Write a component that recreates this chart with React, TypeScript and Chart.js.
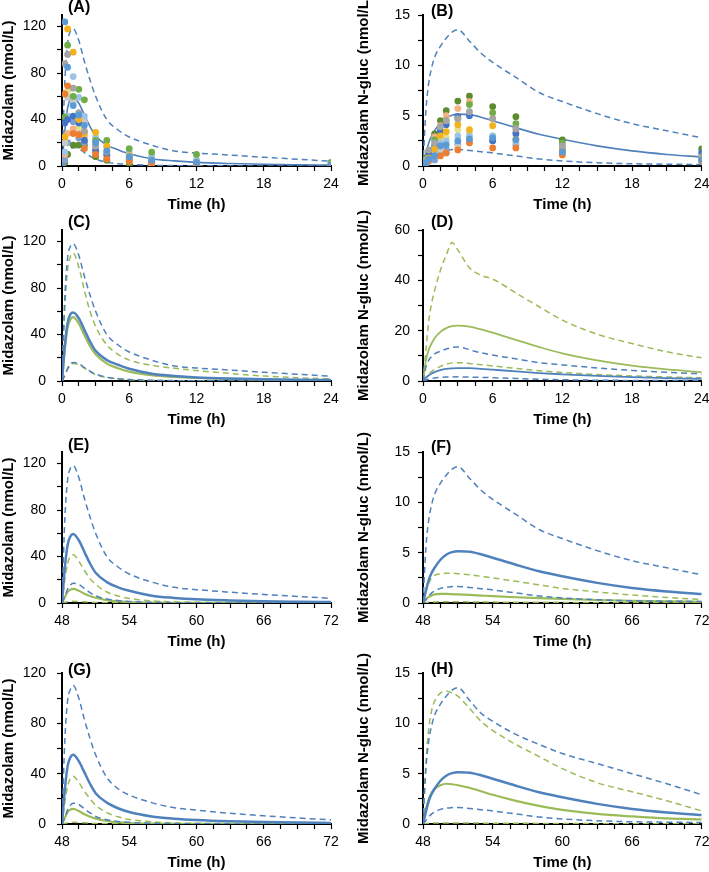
import React, { useEffect, useRef } from "react";
import { Chart, registerables } from "chart.js";
Chart.register(...registerables);

Chart.defaults.font.family = "'Liberation Sans', Arial, sans-serif";
Chart.defaults.color = "#000";

const BLUE = "#4F81BD";
const GREEN = "#9BBB59";

// ---- time grids ----
const timeDay1 = [0, 0.25, 0.5, 0.75, 1, 1.5, 2, 2.5, 3, 4, 5, 6, 8, 10, 12, 15, 18, 21, 24];
const timeDay3 = [48, 48.25, 48.5, 48.75, 49, 49.5, 50, 50.5, 51, 52, 53, 54, 56, 58, 60, 63, 66, 69, 72];
const sampleTimes = [0, 0.25, 0.5, 1, 1.5, 2, 3, 4, 6, 8, 12, 24];

// ---- observed subjects ----
const subjectColors = [
  "#5B9BD5", "#ED7D31", "#A5A5A5", "#F2B21B", "#4472C4", "#70AD47",
  "#9DC3E6", "#F4B183", "#C9C9C9", "#E4E28A", "#7DA0D2", "#5E8B2E",
];
const midazolamObserved = [
  [0, 124, 85, 52, 44, 35, 20, 13, 8, 5, 3, 1],
  [0, 62, 69, 28, 27, 15, 10, 6, 4, 3, 1.5, 0.5],
  [0, 88, 96, 67, 46, 30, 17, 12, 7, 5, 3, 1],
  [0, 25, 118, 98, 40, 28, 29, 17, 9, 5, 2, 1],
  [0, 37, 40, 43, 37, 22, 13, 10, 6, 4, 2, 0.5],
  [0, 42, 104, 60, 66, 57, 22, 22, 15, 12, 10, 3],
  [0, 12, 43, 77, 59, 43, 25, 17, 12, 9, 5, 2],
  [0, 10, 28, 32, 27, 25, 12, 8, 4, 2, 1, 0.3],
  [0, 20, 59, 55, 28, 38, 18, 13, 9, 6, 3, 1.5],
  [0, 20, 64, 55, 33, 30, 20, 15, 10, 8, 5, 2],
  [0, 5, 20, 38, 24, 20, 15, 9, 6, 4, 2, 1],
  [0, 3, 10, 18, 18, 18, 8, 5, 2, 2, 1, 0.5],
];
const glucObserved = [
  [0, 0.3, 0.7, 1.0, 2.0, 2.1, 2.5, 2.7, 2.8, 2.6, 1.4, 0.6],
  [0, 0.2, 0.5, 1.0, 1.0, 1.3, 1.6, 2.3, 1.8, 1.8, 1.1, 0.5],
  [0, 0.5, 1.6, 2.3, 3.9, 4.5, 4.7, 5.4, 4.7, 3.7, 2.0, 0.9],
  [0, 0.3, 0.8, 1.7, 3.0, 3.4, 4.1, 3.6, 4.0, 2.6, 1.6, 0.7],
  [0, 0.4, 1.1, 2.0, 3.4, 4.1, 4.9, 5.0, 2.5, 3.2, 1.6, 1.3],
  [0, 0.5, 1.2, 2.6, 3.5, 4.5, 4.7, 6.1, 5.3, 4.2, 2.3, 0.8],
  [0, 0.3, 0.9, 1.3, 2.3, 2.5, 3.0, 3.0, 3.0, 2.3, 1.5, 0.7],
  [0, 0.6, 1.3, 2.9, 4.0, 5.0, 5.7, 6.4, 4.7, 3.5, 1.8, 1.0],
  [0, 0.3, 0.8, 1.7, 1.65, 1.3, 1.9, 2.3, 2.8, 3.3, 2.0, 0.6],
  [0, 0.4, 1.0, 2.3, 2.65, 2.85, 3.6, 3.3, 3.0, 2.8, 1.8, 0.8],
  [0, 0.2, 0.6, 0.6, 1.3, 1.65, 2.15, 2.5, 2.5, 2.1, 1.3, 0.5],
  [0, 0.8, 1.5, 3.2, 4.5, 5.5, 6.45, 6.95, 5.9, 4.9, 2.6, 1.7],
];

// ---- simulated midazolam, day 1 ----
const mdzBlueMed1 = [0, 30, 50, 57.5, 59, 54, 44, 34, 26, 18, 14, 10.5, 6.3, 4.4, 3.1, 2.1, 1.5, 1.1, 0.8];
const mdzBlueP95_1 = [0, 72, 106, 116, 118, 108, 90, 74, 60, 40, 31, 25, 18, 13, 11.2, 9.4, 7.5, 5.8, 4.1];
const mdzBlueP5_1 = [0, 5, 11, 14.5, 16, 15, 11.5, 8.5, 6, 3.2, 2, 1.3, 0.6, 0.35, 0.2, 0.1, 0.05, 0.03, 0.02];
const mdzGreenMedC = [0, 27, 46, 53, 55, 49.5, 39.5, 30, 23, 15, 11, 8, 5, 3.5, 2.6, 1.7, 1.1, 0.7, 0.5];
const mdzGreenP95C = [0, 62, 96, 107, 110, 98, 78, 60, 47, 31, 23, 18, 13.5, 11, 9, 6.5, 4.3, 2.8, 1.8];
const mdzGreenP5C = [0, 4.5, 10, 13.5, 15, 14, 11, 8, 5.5, 3, 1.8, 1.1, 0.5, 0.25, 0.15, 0.08, 0.04, 0.02, 0.01];

// ---- simulated midazolam, day 3 ----
const mdzBlueMedE = [0, 30, 50, 57.5, 59.5, 54, 44, 34, 26, 18, 13.5, 10.5, 6.3, 4.4, 3.2, 2.2, 1.5, 1.1, 0.8];
const mdzBlueP95E = [0, 72, 106, 116, 118, 108, 90, 74, 60, 40, 31, 25, 18, 13.5, 11.5, 9.3, 7.4, 5.7, 4];
const mdzBlueP5E = [0, 5.5, 12, 15.5, 17, 16, 12.5, 9, 6.2, 3.4, 2.1, 1.3, 0.6, 0.3, 0.2, 0.1, 0.05, 0.03, 0.02];
const mdzGreenMedE = [0, 5, 9.5, 11.5, 12.2, 10.5, 8, 6, 4.5, 2.5, 1.4, 0.8, 0.3, 0.15, 0.08, 0.04, 0.02, 0.01, 0];
const mdzGreenP95E = [0, 20, 34, 40, 41.5, 36, 28, 21, 16, 9.5, 6, 3.8, 1.8, 1, 0.6, 0.35, 0.2, 0.12, 0.08];
const mdzGreenP5E = [0, 0.6, 1.1, 1.4, 1.5, 1.3, 1, 0.7, 0.5, 0.25, 0.12, 0.06, 0.02, 0.01, 0, 0, 0, 0, 0];

const mdzBlueMedG = [0, 27, 46, 53, 55, 50, 41, 32, 24.5, 17, 12.5, 9.5, 6, 4.2, 3.1, 2.1, 1.5, 1.1, 0.8];
const mdzBlueP95G = [0, 66, 98, 107, 110, 100, 83, 68, 55, 37, 28, 23, 17, 13, 11, 8.5, 6.5, 4.8, 3.3];
const mdzBlueP5G = [0, 5, 11.5, 15, 16.5, 15.5, 12, 8.8, 6, 3.3, 2, 1.3, 0.6, 0.3, 0.2, 0.1, 0.05, 0.03, 0.02];
const mdzGreenMedG = [0, 5, 9.5, 11.5, 12, 10.3, 7.8, 5.8, 4.3, 2.4, 1.3, 0.75, 0.3, 0.15, 0.08, 0.04, 0.02, 0.01, 0];
const mdzGreenP95G = [0, 17, 30, 36, 38, 33, 26, 20, 15, 9, 5.7, 3.6, 1.7, 0.9, 0.55, 0.3, 0.2, 0.12, 0.08];
const mdzGreenP5G = [0, 0.5, 1, 1.3, 1.4, 1.2, 0.9, 0.65, 0.45, 0.22, 0.1, 0.05, 0.02, 0.01, 0, 0, 0, 0, 0];

// ---- simulated midazolam N-glucuronide ----
const glucBlueMed = [0, 1.2, 2.3, 3.0, 3.5, 4.3, 4.8, 5.05, 5.15, 5.1, 4.85, 4.5, 3.8, 3.15, 2.65, 2.0, 1.5, 1.15, 0.9];
const glucBlueP95 = [0, 5.5, 8.3, 9.8, 10.8, 11.9, 12.7, 13.3, 13.55, 12.4, 11.2, 10.3, 8.8, 7.3, 6.4, 5.2, 4.2, 3.5, 2.8];
const glucBlueP95H = [0, 5.5, 8.3, 9.8, 10.8, 11.9, 12.7, 13.3, 13.55, 12.3, 11.0, 10.2, 8.9, 7.9, 7.0, 6.0, 5.0, 4.0, 2.9];
const glucBlueP5 = [0, 0.35, 0.7, 1.0, 1.2, 1.45, 1.58, 1.63, 1.65, 1.55, 1.42, 1.3, 1.0, 0.7, 0.5, 0.32, 0.22, 0.18, 0.15];
const glucGreenMedD = [0, 8, 12.5, 15, 17, 19.5, 21, 21.8, 22, 21.6, 20.5, 19.2, 16.3, 13.5, 11, 8.2, 6.1, 4.6, 3.5];
const glucGreenP95D = [0, 12, 24, 31, 36, 44, 50, 55, 52, 45, 42, 40.5, 35, 29.5, 24.2, 18.6, 14.9, 11.6, 9.2];
const glucGreenP5D = [0, 1.5, 2.8, 3.8, 4.6, 5.8, 6.7, 7.2, 7.3, 7.0, 6.5, 6.0, 5.0, 4.1, 3.4, 2.6, 2.0, 1.6, 1.3];
const glucGreenMedF = [0, 0.35, 0.6, 0.75, 0.85, 0.9, 0.9, 0.88, 0.85, 0.8, 0.74, 0.68, 0.57, 0.48, 0.4, 0.3, 0.22, 0.16, 0.12];
const glucGreenP95F = [0, 1.2, 2.0, 2.5, 2.75, 2.9, 2.95, 2.95, 2.9, 2.8, 2.65, 2.5, 2.15, 1.8, 1.45, 1.1, 0.8, 0.55, 0.35];
const glucGreenP5F = [0, 0.05, 0.08, 0.1, 0.11, 0.12, 0.12, 0.12, 0.12, 0.11, 0.1, 0.09, 0.08, 0.07, 0.06, 0.04, 0.03, 0.02, 0.02];
const glucGreenMedH = [0, 1.5, 2.5, 3.1, 3.5, 3.85, 4.0, 3.95, 3.85, 3.6, 3.25, 2.9, 2.3, 1.8, 1.4, 1.0, 0.75, 0.55, 0.45];
const glucGreenP95H = [0, 6, 9.5, 11.3, 12.2, 13.0, 13.2, 13.0, 12.7, 11.5, 10.2, 9.3, 7.9, 6.7, 5.5, 4.1, 3.2, 2.3, 1.3];
const glucGreenP5H = [0, 0.04, 0.07, 0.09, 0.1, 0.11, 0.11, 0.11, 0.1, 0.1, 0.09, 0.08, 0.07, 0.06, 0.05, 0.04, 0.03, 0.02, 0.02];

const MDZ_TITLE = "Midazolam (nmol/L)";
const GLUC_TITLE = "Midazolam N-gluc (nmol/L)";

type Series = { values: number[]; color: string; dashed: boolean; width: number };
type PanelCfg = {
  label: string;
  col: 0 | 1;
  row: number;
  labelDy: number;
  times: number[];
  xMin: number;
  xMax: number;
  yMax: number;
  yStep: number;
  yMajor: number;
  yTitle: string;
  series: Series[];
  observed?: number[][];
};

const med = (values: number[], color: string, width: number): Series => ({ values, color, dashed: false, width });
const pct = (values: number[], color: string): Series => ({ values, color, dashed: true, width: 1.5 });

const panels: PanelCfg[] = [
  {
    label: "(A)", col: 0, row: 0, labelDy: -7, times: timeDay1, xMin: 0, xMax: 24, yMax: 130, yStep: 20, yMajor: 40,
    yTitle: MDZ_TITLE, observed: midazolamObserved,
    series: [med(mdzBlueMed1, BLUE, 1.6), pct(mdzBlueP95_1, BLUE), pct(mdzBlueP5_1, BLUE)],
  },
  {
    label: "(B)", col: 1, row: 0, labelDy: -3, times: timeDay1, xMin: 0, xMax: 24, yMax: 15, yStep: 2.5, yMajor: 5,
    yTitle: GLUC_TITLE, observed: glucObserved,
    series: [med(glucBlueMed, BLUE, 1.6), pct(glucBlueP95, BLUE), pct(glucBlueP5, BLUE)],
  },
  {
    label: "(C)", col: 0, row: 1, labelDy: -7, times: timeDay1, xMin: 0, xMax: 24, yMax: 130, yStep: 20, yMajor: 40,
    yTitle: MDZ_TITLE,
    series: [med(mdzBlueMed1, BLUE, 2.5), pct(mdzBlueP95_1, BLUE), pct(mdzBlueP5_1, BLUE),
      med(mdzGreenMedC, GREEN, 2.2), pct(mdzGreenP95C, GREEN), pct(mdzGreenP5C, GREEN)],
  },
  {
    label: "(D)", col: 1, row: 1, labelDy: -7, times: timeDay1, xMin: 0, xMax: 24, yMax: 60, yStep: 10, yMajor: 20,
    yTitle: GLUC_TITLE,
    series: [med(glucBlueMed, BLUE, 1.8), pct(glucBlueP95, BLUE), pct(glucBlueP5, BLUE),
      med(glucGreenMedD, GREEN, 1.8), pct(glucGreenP95D, GREEN), pct(glucGreenP5D, GREEN)],
  },
  {
    label: "(E)", col: 0, row: 2, labelDy: -6, times: timeDay3, xMin: 48, xMax: 72, yMax: 130, yStep: 20, yMajor: 40,
    yTitle: MDZ_TITLE,
    series: [med(mdzBlueMedE, BLUE, 2.5), pct(mdzBlueP95E, BLUE), pct(mdzBlueP5E, BLUE),
      med(mdzGreenMedE, GREEN, 2.2), pct(mdzGreenP95E, GREEN), pct(mdzGreenP5E, GREEN)],
  },
  {
    label: "(F)", col: 1, row: 2, labelDy: -4, times: timeDay3, xMin: 48, xMax: 72, yMax: 15, yStep: 2.5, yMajor: 5,
    yTitle: GLUC_TITLE,
    series: [med(glucBlueMed, BLUE, 2.5), pct(glucBlueP95, BLUE), pct(glucBlueP5, BLUE),
      med(glucGreenMedF, GREEN, 2.2), pct(glucGreenP95F, GREEN), pct(glucGreenP5F, GREEN)],
  },
  {
    label: "(G)", col: 0, row: 3, labelDy: -2, times: timeDay3, xMin: 48, xMax: 72, yMax: 120, yStep: 20, yMajor: 40,
    yTitle: MDZ_TITLE,
    series: [med(mdzBlueMedG, BLUE, 2.5), pct(mdzBlueP95G, BLUE), pct(mdzBlueP5G, BLUE),
      med(mdzGreenMedG, GREEN, 2.2), pct(mdzGreenP95G, GREEN), pct(mdzGreenP5G, GREEN)],
  },
  {
    label: "(H)", col: 1, row: 3, labelDy: -3, times: timeDay3, xMin: 48, xMax: 72, yMax: 15, yStep: 2.5, yMajor: 5,
    yTitle: GLUC_TITLE,
    series: [med(glucBlueMed, BLUE, 2.5), pct(glucBlueP95H, BLUE), pct(glucBlueP5, BLUE),
      med(glucGreenMedH, GREEN, 2.2), pct(glucGreenP95H, GREEN), pct(glucGreenP5H, GREEN)],
  },
];

// layout geometry
const ROW_TOPS = [15, 230, 452, 673];
const PAD_TOP = 20;
const PLOT_H = 151;
const X_AXIS_H = 50;
const COLS = [
  { left: 0, width: 355, yAxisW: 62, padRight: 24, tickPad: 11 },
  { left: 355, width: 375, yAxisW: 68, padRight: 28.3, tickPad: 8 },
];

function Panel({ cfg }: { cfg: PanelCfg }) {
  const ref = useRef<HTMLCanvasElement>(null);
  const col = COLS[cfg.col];
  const top = ROW_TOPS[cfg.row] - PAD_TOP;
  const height = PAD_TOP + PLOT_H + X_AXIS_H;

  useEffect(() => {
    if (!ref.current) return;
    const datasets: any[] = [];
    if (cfg.observed) {
      cfg.observed.forEach((vals, i) => {
        datasets.push({
          data: sampleTimes.map((t, j) => ({ x: t, y: vals[j] })),
          showLine: false,
          pointRadius: 3.4,
          pointBorderWidth: 0,
          pointBackgroundColor: subjectColors[i],
          borderColor: subjectColors[i],
        });
      });
    }
    cfg.series.forEach((s) => {
      datasets.push({
        data: cfg.times.map((t, j) => ({ x: t, y: s.values[j] })),
        borderColor: s.color,
        borderWidth: s.width,
        borderDash: s.dashed ? [6, 4] : [],
        pointRadius: 0,
        fill: false,
        cubicInterpolationMode: "monotone",
      });
    });

    const labelPlugin = {
      id: "panelLabel",
      afterDraw(chart: any) {
        const { ctx, chartArea } = chart;
        ctx.save();
        ctx.font = "bold 16px 'Liberation Sans', Arial, sans-serif";
        ctx.fillStyle = "#000";
        ctx.textAlign = "left";
        ctx.textBaseline = "middle";
        ctx.fillText(cfg.label, chartArea.left + (cfg.col === 0 ? 6 : 8), chartArea.top + cfg.labelDy);
        ctx.restore();
      },
    };

    const chart = new Chart(ref.current, {
      type: "line",
      data: { datasets },
      plugins: [labelPlugin],
      options: {
        animation: false,
        responsive: false,
        devicePixelRatio: 1,
        events: [],
        layout: { padding: { top: PAD_TOP, left: 0, right: col.padRight, bottom: 0 } },
        plugins: { legend: { display: false }, tooltip: { enabled: false } },
        scales: {
          x: {
            type: "linear",
            min: cfg.xMin,
            max: cfg.xMax,
            afterFit: (s: any) => { s.height = X_AXIS_H; },
            ticks: {
              stepSize: 1.5,
              autoSkip: false,
              maxRotation: 0,
              minRotation: 0,
              padding: 5,
              color: "#000",
              font: { size: 14 },
              callback: (v: any) => (Number(v) % 6 === 0 ? String(v) : ""),
            },
            grid: { drawOnChartArea: false, tickLength: 5, color: "#000", tickWidth: 1.2 },
            border: { color: "#000", width: 2 },
            title: {
              display: true,
              text: "Time (h)",
              color: "#000",
              font: { size: 15, weight: "bold" },
              padding: { top: 0, bottom: 2 },
            },
          },
          y: {
            type: "linear",
            min: 0,
            max: cfg.yMax,
            afterFit: (s: any) => { s.width = col.yAxisW; },
            ticks: {
              stepSize: cfg.yStep,
              includeBounds: false,
              padding: col.tickPad,
              color: "#000",
              font: { size: 14 },
              callback: (v: any) => (Number(v) % cfg.yMajor === 0 ? String(v) : ""),
            },
            grid: { drawOnChartArea: false, tickLength: 5, color: "#000", tickWidth: 1.2 },
            border: { color: "#000", width: 2 },
            title: {
              display: true,
              text: cfg.yTitle,
              color: "#000",
              font: { size: 15, weight: "bold" },
              padding: { top: 0, bottom: 0 },
            },
          },
        },
      } as any,
    });
    return () => chart.destroy();
  }, []);

  return (
    <canvas
      ref={ref}
      width={col.width}
      height={height}
      style={{ position: "absolute", left: col.left, top, width: col.width, height, display: "block" }}
    />
  );
}

export default function App() {
  return (
    <div
      style={{
        position: "fixed",
        left: 0,
        top: 0,
        width: 709,
        height: 872,
        overflow: "hidden",
        background: "#fff",
      }}
    >
      {panels.map((p) => (
        <Panel key={p.label} cfg={p} />
      ))}
    </div>
  );
}
